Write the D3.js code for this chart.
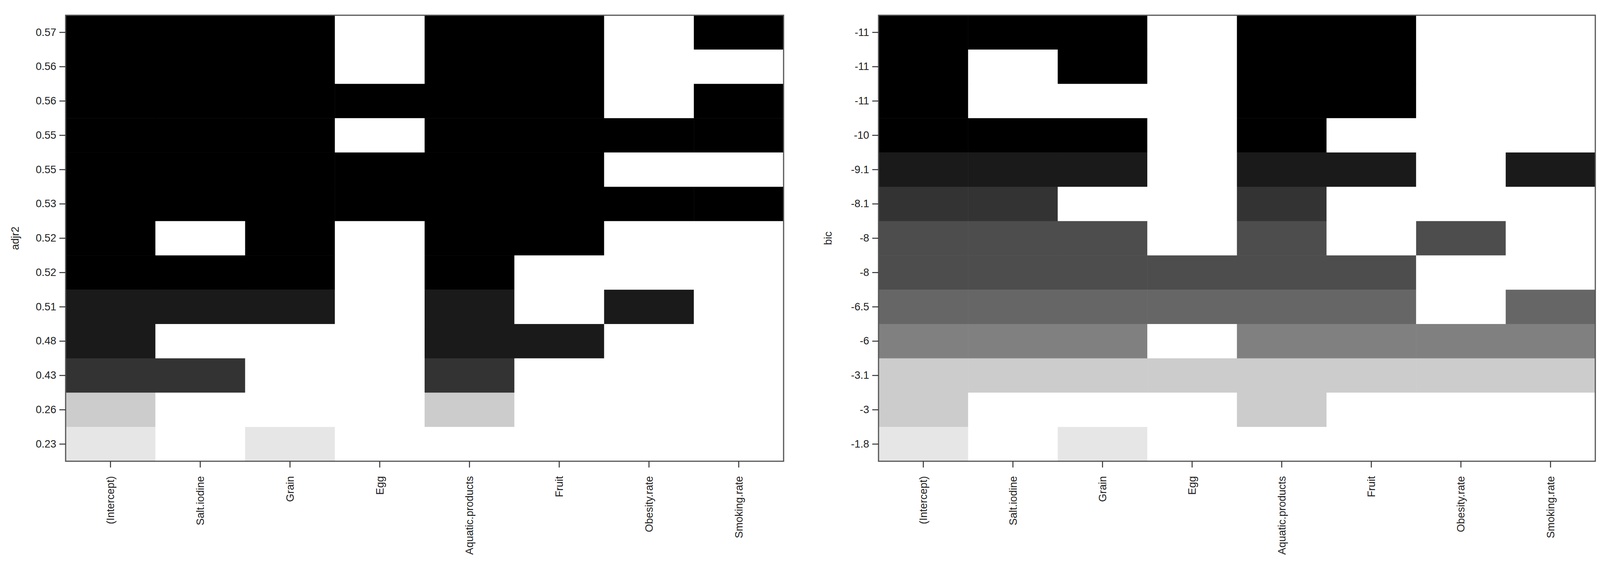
<!DOCTYPE html>
<html>
<head>
<meta charset="utf-8">
<script src="https://cdn.jsdelivr.net/npm/d3@7"></script>
<style>
body{margin:0;background:#fff;}
text{font-family:"Liberation Sans Narrow","Arial Narrow","Liberation Sans",sans-serif;fill:#222;}
</style>
</head>
<body>
<div id="chart"></div>
<script>
const W = 4129, H = 1448;

// Variables (columns)
const vars = ["(Intercept)","Salt.iodine","Grain","Egg","Aquatic.products","Fruit","Obesity.rate","Smoking.rate"];

// Left panel: adjr2
const adjLabels = ["0.57","0.56","0.56","0.55","0.55","0.53","0.52","0.52","0.51","0.48","0.43","0.26","0.23"];
const adjShade = [0,0,0,0,0,0,0,0,26,26,51,204,230];
const adjIn = [
  [1,1,1,0,1,1,0,1],
  [1,1,1,0,1,1,0,0],
  [1,1,1,1,1,1,0,1],
  [1,1,1,0,1,1,1,1],
  [1,1,1,1,1,1,0,0],
  [1,1,1,1,1,1,1,1],
  [1,0,1,0,1,1,0,0],
  [1,1,1,0,1,0,0,0],
  [1,1,1,0,1,0,1,0],
  [1,0,0,0,1,1,0,0],
  [1,1,0,0,1,0,0,0],
  [1,0,0,0,1,0,0,0],
  [1,0,1,0,0,0,0,0]
];

// Right panel: bic
const bicLabels = ["-11","-11","-11","-10","-9.1","-8.1","-8","-8","-6.5","-6","-3.1","-3","-1.8"];
const bicShade = [0,0,0,0,26,51,77,77,102,128,204,204,230];
const bicIn = [
  [1,1,1,0,1,1,0,0],
  [1,0,1,0,1,1,0,0],
  [1,0,0,0,1,1,0,0],
  [1,1,1,0,1,0,0,0],
  [1,1,1,0,1,1,0,1],
  [1,1,0,0,1,0,0,0],
  [1,1,1,0,1,0,1,0],
  [1,1,1,1,1,1,0,0],
  [1,1,1,1,1,1,0,1],
  [1,1,1,0,1,1,1,1],
  [1,1,1,1,1,1,1,1],
  [1,0,0,0,1,0,0,0],
  [1,0,1,0,0,0,0,0]
];

const svg = d3.select("#chart").append("svg").attr("width",W).attr("height",H);

function panel(x0, x1, yTitle, labels, shade, incl){
  const top = 39, bottom = 1180;
  const g = svg.append("g");
  const x = d3.scaleBand().domain(d3.range(vars.length)).range([x0,x1]);
  const y = d3.scaleBand().domain(d3.range(labels.length)).range([top,bottom]);

  // cells
  incl.forEach((row,i)=>{
    g.selectAll(null).data(row).enter().append("rect")
      .attr("x",(d,j)=>x(j))
      .attr("y",y(i))
      .attr("width",x.bandwidth()+0.5)
      .attr("height",y.bandwidth()+0.5)
      .attr("fill",d => d ? d3.rgb(shade[i],shade[i],shade[i]) : "#fff");
  });

  // box
  g.append("rect").attr("x",x0).attr("y",top).attr("width",x1-x0).attr("height",bottom-top)
    .attr("fill","none").attr("stroke","#555").attr("stroke-width",3);

  // y axis
  const yAxis = d3.axisLeft(y).tickFormat(i=>labels[i]).tickSize(16).tickPadding(8);
  const ya = g.append("g").attr("transform",`translate(${x0},0)`).call(yAxis);
  ya.select(".domain").remove();
  ya.selectAll("line").attr("stroke","#333").attr("stroke-width",2.5);
  ya.selectAll("text").attr("font-size",27).attr("fill","#222");

  // x axis
  const xAxis = d3.axisBottom(x).tickFormat(j=>vars[j]).tickSize(16).tickPadding(8);
  const xa = g.append("g").attr("transform",`translate(0,${bottom})`).call(xAxis);
  xa.select(".domain").remove();
  xa.selectAll("line").attr("stroke","#333").attr("stroke-width",2.5);
  xa.selectAll("text").attr("font-size",27).attr("fill","#222")
    .attr("transform","rotate(-90)").attr("text-anchor","end")
    .attr("x",-38).attr("y",0).attr("dy","0.35em");

  // y title
  g.append("text").attr("transform",`translate(${x0-120},${(top+bottom)/2}) rotate(-90)`)
    .attr("text-anchor","middle").attr("font-size",27).text(yTitle);
}

panel(168, 2006, "adjr2", adjLabels, adjShade, adjIn);
panel(2249, 4084, "bic", bicLabels, bicShade, bicIn);
</script>
</body>
</html>
